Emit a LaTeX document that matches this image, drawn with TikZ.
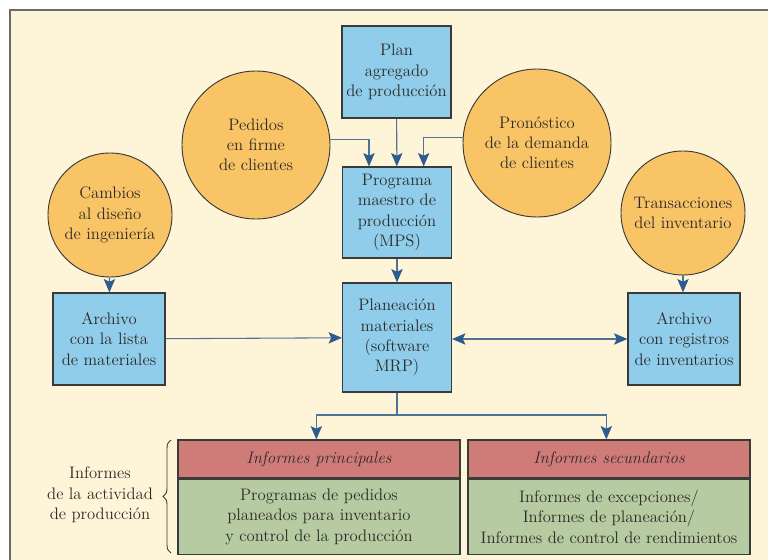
\documentclass[tikz,border=0pt]{standalone}
\usetikzlibrary{arrows.meta,decorations.pathreplacing}
\definecolor{paper}{HTML}{FEF5D9}
\definecolor{frameline}{HTML}{6E6A66}
\definecolor{boxblue}{HTML}{8FCDEA}
\definecolor{orb}{HTML}{F8C466}
\definecolor{headred}{HTML}{CF7C79}
\definecolor{bodygreen}{HTML}{B6CBA1}
\definecolor{edge}{HTML}{3A3A3A}
\definecolor{ink}{HTML}{2E2A28}
\definecolor{wire}{HTML}{4F7397}
\definecolor{tipblue}{HTML}{2D5D8E}
\tikzset{
  tip/.tip={Stealth[length=10pt,width=8.5pt,inset=2pt,fill=tipblue,color=tipblue]},
  txt/.style={font=\fontsize{12.5}{15.2}\selectfont, text=ink, align=center, inner sep=1pt},
  bluebox/.style={txt, draw=edge, line width=0.9pt, fill=boxblue, minimum width=81.75pt, minimum height=69pt},
  bigorb/.style={txt, circle, draw=edge, line width=0.7pt, fill=orb, minimum size=111pt},
  smallorb/.style={txt, circle, draw=edge, line width=0.7pt, fill=orb, minimum size=93pt},
  headbox/.style={txt, draw=edge, line width=0.9pt, fill=headred, minimum width=211.5pt, minimum height=28.5pt, font=\fontsize{12.5}{15.2}\selectfont\itshape},
  bodybox/.style={txt, draw=edge, line width=0.9pt, fill=bodygreen, minimum width=211.5pt, minimum height=56.25pt},
  flow/.style={draw=wire, line width=0.8pt, -tip},
  flowboth/.style={draw=wire, line width=0.8pt, tip-tip},
  wireline/.style={draw=wire, line width=0.8pt}
}
\begin{document}
\begin{tikzpicture}[x=0.75pt, y=-0.75pt]
  \useasboundingbox (0,0) rectangle (768,560);
  % sheet
  \fill[white] (0,0) rectangle (768,560);
  \fill[paper] (10,10) rectangle (768,560);
  \draw[frameline, line width=1.5pt] (10,560) -- (10,10) -- (768,10);

  % planning inputs
  \node[bluebox] (plan) at (396.5,72) {Plan\\agregado\\de producción};
  \node[bigorb] (ped) at (256,145) {Pedidos\\en firme\\de clientes};
  \node[bigorb] (pro) at (537,143) {Pronóstico\\de la demanda\\de clientes};
  \node[bluebox, minimum height=68.25pt] (mps) at (397,212.5) {Programa\\maestro de\\producción\\(MPS)};
  \node[smallorb] (ing) at (110,215) {Cambios\\al diseño\\de ingeniería};
  \node[smallorb] (inv) at (683,213) {Transacciones\\del inventario};

  % files and MRP
  \node[bluebox, minimum width=84pt] (lista) at (109,339) {Archivo\\con la lista\\de materiales};
  \node[bluebox, minimum height=81.75pt] (mrp) at (397,337.5) {Planeación\\materiales\\(software\\MRP)};
  \node[bluebox, minimum width=84pt] (reg) at (684,339) {Archivo\\con registros\\de inventarios};

  % reports
  \node[headbox] (hp) at (319,459) {Informes principales};
  \node[bodybox, anchor=north] (bp) at (hp.south) {Programas de pedidos\\planeados para inventario\\y control de la producción};
  \node[headbox] (hs) at (609,459) {Informes secundarios};
  \node[bodybox, anchor=north] (bs) at (hs.south) {Informes de excepciones/\\Informes de planeación/\\Informes de control de rendimientos};
  \node[txt] (act) at (100,495) {Informes\\de la actividad\\de producción};
  \draw[edge, line width=0.7pt, decorate, decoration={brace, amplitude=6pt}]
    (171,553) -- (171,440);

  % connectors
  \draw[flow] (ped.4) -| ([xshift=-21pt]mps.north);
  \draw[flow] (plan) -- (mps);
  \draw[flow] (pro.176) -| ([xshift=20pt]mps.north);
  \draw[flow] (mps) -- (mrp);
  \draw[flow] (ing) -- (lista);
  \draw[flow] (inv.south) -- (inv.south |- reg.north);
  \draw[flow] (lista) -- (mrp);
  \draw[flowboth] (mrp.east |- reg.west) -- (reg.west);
  \coordinate (split) at (397,415);
  \draw[wireline] (mrp.south) -- (split);
  \draw[flow] (split) -| ([xshift=-2pt]hp.north);
  \draw[flow] (split) -| ([xshift=-2pt]hs.north);
\end{tikzpicture}
\end{document}
